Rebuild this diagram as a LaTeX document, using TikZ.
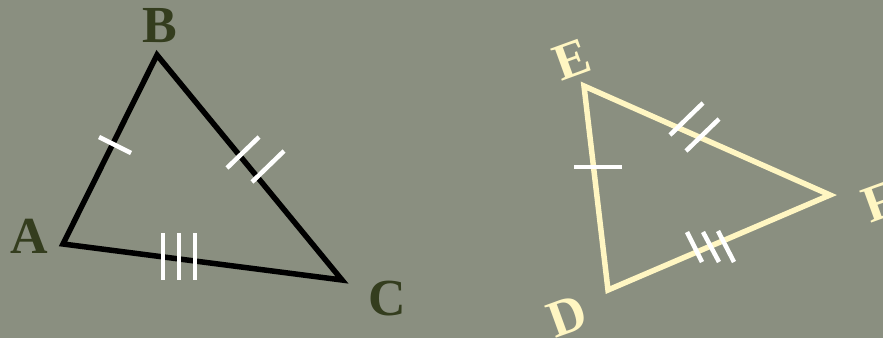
\documentclass[tikz,border=0pt]{standalone}
\usepackage{fontspec}
\setmainfont{Liberation Serif}
\definecolor{bgc}{HTML}{8A8F80}
\definecolor{olive}{HTML}{343D1E}
\definecolor{cream}{HTML}{FFF6C2}
\begin{document}
\begin{tikzpicture}[x=1pt,y=-1pt,
  side/.style={line width=5.5pt,line join=miter},
  tick/.style={white,line width=4.5pt},
  lbl/.style={font=\fontsize{52}{52}\selectfont\bfseries,inner sep=0pt},
  darklbl/.style={lbl,text=olive},
  lightlbl/.style={lbl,text=cream,rotate=20}]
\fill[bgc] (0,0) rectangle (883,338);
\useasboundingbox (0,0) rectangle (883,338);
% triangle ABC
\coordinate (A) at (63,244);
\coordinate (B) at (157,55);
\coordinate (C) at (342,280);
\draw[side,black] (A) -- (B) -- (C) -- cycle;
\node[darklbl] (lA) at (29,236) {A};
\node[darklbl] (lB) at (160,26) {B};
\node[darklbl] (lC) at (387,299) {C};
\coordinate (t1a) at (99,137); \coordinate (t1b) at (131,153);
\draw[tick] (t1a) -- (t1b);
\coordinate (t2a) at (227,168); \coordinate (t2b) at (259,137);
\coordinate (t3a) at (252,182); \coordinate (t3b) at (284,151);
\draw[tick] (t2a) -- (t2b);
\draw[tick] (t3a) -- (t3b);
\coordinate (t4a) at (163,233); \coordinate (t4b) at (163,280);
\coordinate (t5a) at (179,233); \coordinate (t5b) at (179,280);
\coordinate (t6a) at (195,233); \coordinate (t6b) at (195,280);
\draw[tick] (t4a) -- (t4b);
\draw[tick] (t5a) -- (t5b);
\draw[tick] (t6a) -- (t6b);
% triangle DEF
\coordinate (D) at (608,290);
\coordinate (E) at (584,86);
\coordinate (F) at (830,195);
\draw[side,cream] (D) -- (E) -- (F) -- cycle;
\node[lightlbl] (lE) at (572,60) {E};
\node[lightlbl] (lD) at (567,316) {D};
\node[lightlbl] (lF) at (880,202) {F};
\coordinate (s1a) at (574,167); \coordinate (s1b) at (622,167);
\draw[tick] (s1a) -- (s1b);
\coordinate (s2a) at (670,135); \coordinate (s2b) at (703,103);
\coordinate (s3a) at (686,151); \coordinate (s3b) at (719,119);
\draw[tick] (s2a) -- (s2b);
\draw[tick] (s3a) -- (s3b);
\coordinate (s4a) at (687,232); \coordinate (s4b) at (702,262);
\coordinate (s5a) at (703,232); \coordinate (s5b) at (719,262);
\coordinate (s6a) at (718,231); \coordinate (s6b) at (734,262);
\draw[tick] (s4a) -- (s4b);
\draw[tick] (s5a) -- (s5b);
\draw[tick] (s6a) -- (s6b);
\end{tikzpicture}
\end{document}
